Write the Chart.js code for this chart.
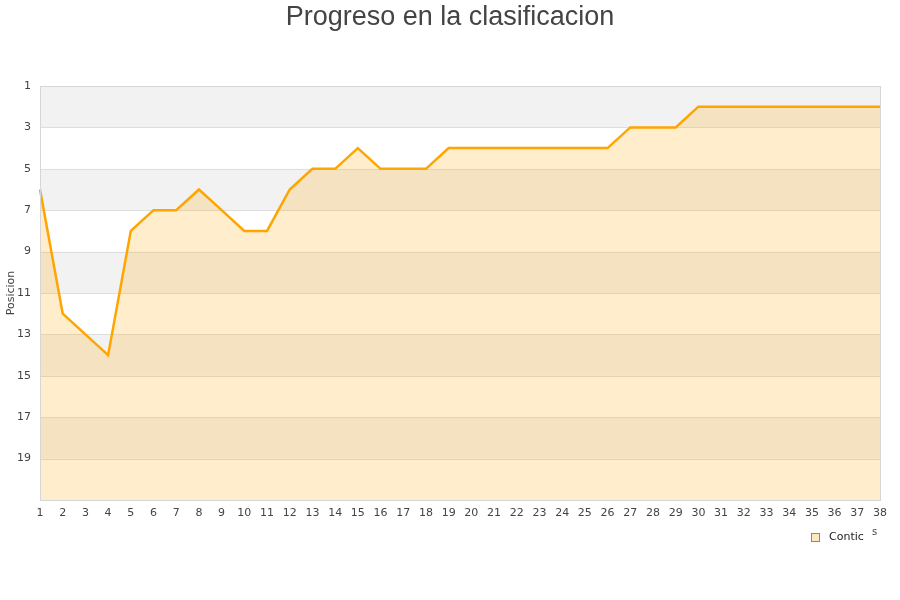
<!DOCTYPE html>
<html>
<head>
<meta charset="utf-8">
<script src="https://cdn.jsdelivr.net/npm/chart.js@4"></script>
<style>
  html, body { margin: 0; padding: 0; background: #fff; }
  #wrap { width: 900px; height: 600px; }
</style>
</head>
<body>
<div id="wrap"><canvas id="chart" width="900" height="600"></canvas></div>
<script>
const jornadas = ["1", "2", "3", "4", "5", "6", "7", "8", "9", "10", "11", "12", "13", "14", "15", "16", "17", "18", "19",
  "20", "21", "22", "23", "24", "25", "26", "27", "28", "29", "30", "31", "32", "33", "34", "35", "36", "37", "38"];
const posiciones = [6, 12, 13, 14, 8, 7, 7, 6, 7, 8, 8, 6, 5, 5, 4, 5, 5, 5, 4,
  4, 4, 4, 4, 4, 4, 4, 3, 3, 3, 2, 2, 2, 2, 2, 2, 2, 2, 2];
const yTicks = [1, 3, 5, 7, 9, 11, 13, 15, 17, 19];
const greyBands = [[1, 3], [5, 7], [9, 11], [13, 15], [17, 19]];

const TEXT = "#444";
const TICK_FONT = { family: "DejaVu Sans", size: 11 };

// alternating grey bands behind the area
const bandsPlugin = {
  id: "bands",
  beforeDatasetsDraw(chart) {
    const { ctx, chartArea: a, scales: { y } } = chart;
    ctx.save();
    ctx.fillStyle = "#f2f2f2";
    greyBands.forEach(([from, to]) => {
      const y1 = y.getPixelForValue(from);
      const y2 = y.getPixelForValue(to);
      ctx.fillRect(a.left, y1, a.right - a.left, y2 - y1);
    });
    // grid lines over the bands
    ctx.strokeStyle = "#dedede";
    ctx.lineWidth = 1;
    yTicks.concat([21]).forEach((v) => {
      const py = Math.round(y.getPixelForValue(v)) + 0.5;
      ctx.beginPath();
      ctx.moveTo(a.left, py);
      ctx.lineTo(a.right, py);
      ctx.stroke();
    });
    ctx.restore();
  },
  afterDatasetsDraw(chart) {
    const { ctx, chartArea: a } = chart;
    ctx.save();
    ctx.strokeStyle = "#d6d6d6";
    ctx.lineWidth = 1;
    ctx.strokeRect(Math.round(a.left) + 0.5, Math.round(a.top) + 0.5, Math.round(a.right - a.left), Math.round(a.bottom - a.top));
    ctx.restore();
  },
};

// title, axis title and the clipped legend
const textPlugin = {
  id: "texts",
  afterDraw(chart) {
    const { ctx } = chart;
    ctx.save();
    ctx.fillStyle = TEXT;
    ctx.font = "27px 'Liberation Sans'";
    ctx.textAlign = "center";
    ctx.textBaseline = "alphabetic";
    ctx.fillText("Progreso en la clasificacion", 450, 25);

    ctx.font = "11px 'DejaVu Sans'";
    ctx.translate(11, 293);
    ctx.rotate(-Math.PI / 2);
    ctx.textBaseline = "middle";
    ctx.fillText("Posicion", 0, 0);
    ctx.restore();

    ctx.save();
    ctx.fillStyle = "rgba(255,165,0,0.25)";
    ctx.fillRect(811.5, 533.5, 8, 8);
    ctx.strokeStyle = "#888";
    ctx.lineWidth = 1;
    ctx.strokeRect(811.5, 533.5, 8, 8);
    ctx.fillStyle = "#222";
    ctx.font = "11px 'DejaVu Sans'";
    ctx.textAlign = "left";
    ctx.textBaseline = "middle";
    ctx.fillText("Contic", 829, 537);
    ctx.font = "10px 'DejaVu Sans'";
    ctx.fillStyle = TEXT;
    ctx.fillText("s", 872, 532);
    ctx.restore();
  },
};

new Chart(document.getElementById("chart"), {
  type: "line",
  data: {
    labels: jornadas,
    datasets: [
      {
        label: "Contic",
        data: posiciones,
        borderColor: "#ffa500",
        borderWidth: 2.5,
        backgroundColor: "rgba(255,165,0,0.2)",
        fill: { value: 21 },
        pointRadius: 0,
        tension: 0,
      },
    ],
  },
  options: {
    responsive: false,
    animation: false,
    layout: { padding: { top: 86, right: 20, bottom: 80, left: 0 } },
    plugins: {
      legend: { display: false },
      title: { display: false },
      tooltip: { enabled: false },
    },
    scales: {
      x: {
        offset: false,
        grid: { display: false, drawTicks: false },
        border: { display: false },
        ticks: { color: TEXT, font: TICK_FONT, maxRotation: 0, autoSkip: false, padding: 7 },
        afterFit(scale) { scale.height = 20; },
      },
      y: {
        reverse: true,
        min: 1,
        max: 21,
        grid: { display: false, drawTicks: false },
        border: { display: false },
        ticks: {
          stepSize: 2,
          color: TEXT,
          font: TICK_FONT,
          padding: 9,
          callback: (v) => (yTicks.includes(v) ? String(v) : ""),
        },
        afterFit(scale) { scale.width = 40; },
      },
    },
  },
  plugins: [bandsPlugin, textPlugin],
});
</script>
</body>
</html>
